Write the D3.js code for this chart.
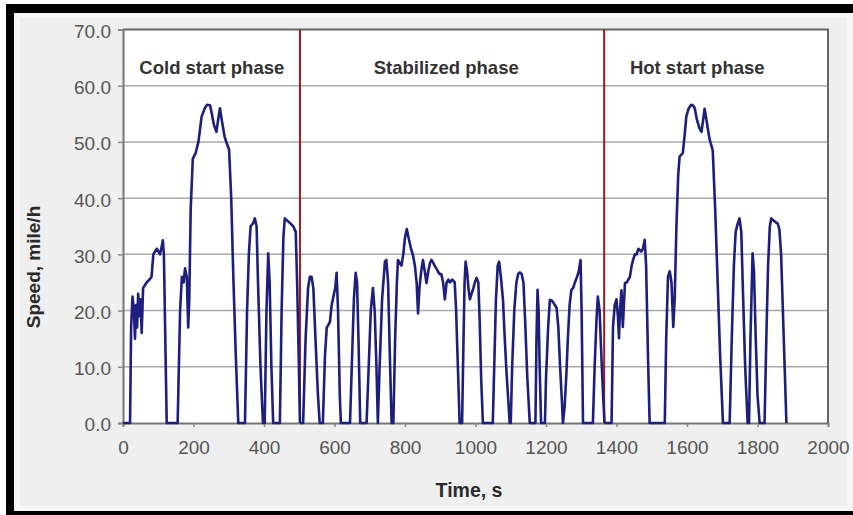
<!DOCTYPE html>
<html>
<head>
<meta charset="utf-8">
<script src="https://cdn.jsdelivr.net/npm/d3@7"></script>
<style>
  html, body { margin: 0; padding: 0; background: #ffffff; }
  svg { display: block; }
</style>
</head>
<body>
<div id="chart"></div>
<script>
// ---------- data ----------
const coldTime = [0,20,23,27,31,34,37,40,43,47,50,53,57,62,67,75,81,86,91,96,105,110,113,116,124,155,162,167,172,176,181,185,188,192,198,206,214,223,232,238,247,252,258,265,270,275,280,288,294,301,307,313,320,327,346,352,357,362,369,374,379,383,390,397,402,407,412,416,421,426,445,450,455,459,466,473,483,490,494,499,502];
const coldSpeed = [0,0,17,22.5,20,15,21,17,23,19,22,16,24,24.5,25,25.5,26,30,30.5,31,30,31.5,32.5,30,0,0,20,26,25,27.5,26,17,22,38,47,48,50,54.5,56,56.6,56.5,55,53,51.8,54,56,54,51,49.8,48.6,40,26,12,0,0,20,30,35,35.5,36.4,35,25,10,0,0,20,30.2,25,10,0,0,20,33,36.4,36,35.6,35,34,25,10,0];

const stabTime = [502,511,518,525,530,535,540,546,553,558,567,573,578,583,587,592,597,602,606,610,615,618,644,650,655,660,664,668,673,691,697,703,709,714,719,723,728,735,743,747,752,757,762,767,772,777,780,785,790,795,800,805,810,817,822,828,833,837,841,846,851,856,861,866,871,875,880,884,889,893,898,903,908,913,918,923,927,934,941,945,950,955,962,966,969,972,976,980,984,989,994,998,1003,1008,1012,1016,1021,1049,1054,1058,1063,1067,1072,1078,1083,1088,1092,1097,1100,1104,1110,1116,1121,1126,1131,1136,1141,1147,1154,1170,1173,1176,1179,1182,1186,1197,1200,1203,1206,1211,1216,1220,1225,1230,1235,1240,1245,1248,1253,1258,1262,1267,1272,1277,1282,1288,1293,1298,1301,1305,1333,1338,1343,1347,1352,1357,1362,1366];
const stabSpeed = [0,0,15,24,26,26,24,15,5,0,0,12,17,17.5,18,21,22.5,24,26.7,20,5,0,0,12,22,26.7,25,15,0,0,10,20,24,20,10,0,10,22,28.7,29,25,12,0,0,15,25,29,28.5,28,30,33,34.5,33,31,30,28,25,19.5,24,27,29,27,24.9,27,28.5,29,28.5,28,27.5,27,26.5,26.5,25,22,25,25.5,25,25.5,25,20,10,0,0,15,25,28.7,27,24,22,23,24,25,25.8,25,18,8,0,0,12,22,28,28.7,26,21.9,15,9,5,0,0,10,20,25,26.5,26.8,26.5,25,18,8,0,0,15,23.7,20,10,0,0,8,12.4,17,21.9,21.8,21.5,21,20.5,17,10,4,0,3,9,15,21,23.7,24,25,26,27,29,20,0,0,10,18,22.5,20,12,5,0];

const hotTime = [1366,1386,1390,1395,1400,1404,1407,1410,1414,1418,1421,1424,1429,1438,1443,1447,1452,1457,1462,1470,1475,1480,1484,1490,1494,1537,1541,1546,1551,1556,1561,1565,1570,1575,1579,1588,1593,1598,1605,1612,1617,1622,1628,1635,1641,1646,1650,1655,1660,1664,1673,1680,1687,1694,1702,1721,1727,1733,1738,1744,1749,1754,1758,1765,1772,1776,1780,1786,1790,1795,1800,1806,1820,1825,1830,1835,1839,1846,1852,1857,1862,1867,1872,1877,1882];
const hotSpeed = [0,0,17,21,22,19,15.1,20,23.6,17.1,21,24.9,25,26,28,29,30,30,31,30.5,31,32.6,28,10,0,0,15,26,27,25,17.1,22,35,44,47.4,48,51,54.5,56,56.6,56.5,56,54,52.5,51.8,54,55.9,54,52,50.5,48.5,38,25,12,0,0,15,28,34,35.5,36.4,34,25,10,0,0,15,30.2,27,15,5,0,0,15,28,35,36.4,36,35.7,35.5,34.5,30,20,10,0];

const phaseBoundaries = [502, 1365];
const phaseLabels = ["Cold start phase", "Stabilized phase", "Hot start phase"];
const yTicks = [0, 10, 20, 30, 40, 50, 60, 70];
const xTicks = [0, 200, 400, 600, 800, 1000, 1200, 1400, 1600, 1800, 2000];
const xTitle = "Time, s";
const yTitle = "Speed, mile/h";

// ---------- layout ----------
const W = 853, H = 515;
const plot = { left: 123, right: 828, top: 29.5, bottom: 423 };

const svg = d3.select("#chart").append("svg")
  .attr("width", W).attr("height", H);

// outer frame
svg.append("rect").attr("x", 0).attr("y", 0).attr("width", W).attr("height", H).attr("fill", "#ffffff");
svg.append("rect").attr("x", 6).attr("y", 4).attr("width", W - 6).attr("height", H - 4).attr("fill", "#000000");
svg.append("rect").attr("x", 14).attr("y", 13).attr("width", W - 14).attr("height", 498).attr("fill", "#f6f6f6");
svg.append("rect").attr("x", 20).attr("y", 18).attr("width", W - 26).attr("height", 488).attr("fill", "#efefef");

const x = d3.scaleLinear().domain([0, 2000]).range([plot.left, plot.right]);
const y = d3.scaleLinear().domain([0, 70]).range([plot.bottom, plot.top]);

// plot background
svg.append("rect")
  .attr("x", plot.left).attr("y", plot.top)
  .attr("width", plot.right - plot.left).attr("height", plot.bottom - plot.top)
  .attr("fill", "#ffffff");

// gridlines
svg.append("g").selectAll("line").data(yTicks.filter(d => d > 0 && d < 70)).join("line")
  .attr("x1", plot.left).attr("x2", plot.right)
  .attr("y1", d => y(d)).attr("y2", d => y(d))
  .attr("stroke", "#a9a9a9").attr("stroke-width", 1.5);

// plot frame (top & right)
svg.append("path")
  .attr("d", `M${plot.left},${plot.top}H${plot.right}V${plot.bottom}`)
  .attr("fill", "none").attr("stroke", "#666666").attr("stroke-width", 2);

// axes
const fontFam = "'Liberation Sans', Arial, sans-serif";
const yAxis = svg.append("g").attr("transform", `translate(${plot.left},0)`)
  .call(d3.axisLeft(y).tickValues(yTicks).tickFormat(d3.format(".1f")).tickSize(5).tickPadding(7));
const xAxis = svg.append("g").attr("transform", `translate(0,${plot.bottom})`)
  .call(d3.axisBottom(x).tickValues(xTicks).tickFormat(d3.format("d")).tickSize(4).tickPadding(14));

[yAxis, xAxis].forEach(g => {
  g.select(".domain").attr("stroke", "#777777").attr("stroke-width", 2);
  g.selectAll(".tick line").attr("stroke", "#888888").attr("stroke-width", 1.5);
  g.selectAll(".tick text").attr("fill", "#555555")
    .style("font-family", fontFam).style("font-size", "19px");
});
yAxis.selectAll(".tick text").attr("dy", "0.42em");

// phase separators
svg.append("g").selectAll("line").data(phaseBoundaries).join("line")
  .attr("x1", d => x(d)).attr("x2", d => x(d))
  .attr("y1", plot.top).attr("y2", plot.bottom)
  .attr("stroke", "#9e1a1a").attr("stroke-width", 2);

// speed trace
const line = d3.line().x(d => x(d[0])).y(d => y(d[1]));
const series = [
  d3.zip(coldTime, coldSpeed),
  d3.zip(stabTime, stabSpeed),
  d3.zip(hotTime, hotSpeed)
];
svg.append("g").selectAll("path").data(series).join("path")
  .attr("d", line)
  .attr("fill", "none")
  .attr("stroke", "#1e1e7c")
  .attr("stroke-width", 2.6)
  .attr("stroke-linejoin", "round");

// phase labels
const labelX = [x(252), x(917), x(1629)];
svg.append("g").selectAll("text").data(phaseLabels).join("text")
  .attr("x", (d, i) => labelX[i])
  .attr("y", 74)
  .attr("text-anchor", "middle")
  .attr("fill", "#333333")
  .style("font-family", fontFam).style("font-weight", "bold").style("font-size", "18.5px")
  .text(d => d);

// axis titles
svg.append("text")
  .attr("x", 469).attr("y", 497)
  .attr("text-anchor", "middle")
  .attr("fill", "#2a2a2a")
  .style("font-family", fontFam).style("font-weight", "bold").style("font-size", "19.5px")
  .text(xTitle);

svg.append("text")
  .attr("transform", "translate(40,267) rotate(-90)")
  .attr("text-anchor", "middle")
  .attr("fill", "#2a2a2a")
  .style("font-family", fontFam).style("font-weight", "bold").style("font-size", "19px")
  .text(yTitle);
</script>
</body>
</html>
